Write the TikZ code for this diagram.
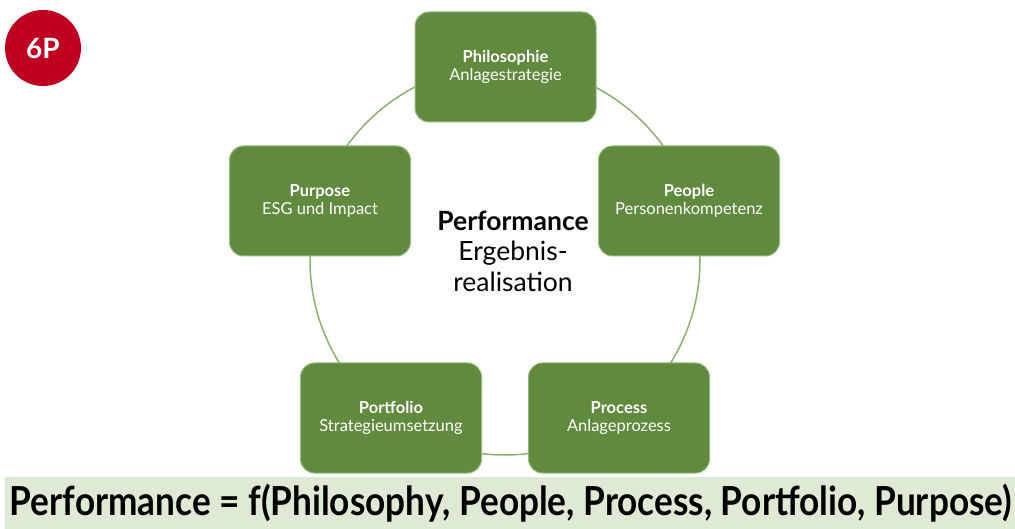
\documentclass[tikz,border=0pt]{standalone}
\usepackage{fontspec}
\setmainfont{Lato}
\usepackage{graphicx}
\definecolor{boxgreen}{RGB}{96,139,62}
\definecolor{boxedge}{RGB}{150,185,125}
\definecolor{ringgreen}{RGB}{140,176,112}
\definecolor{bannergreen}{RGB}{222,234,212}
\definecolor{badgered}{RGB}{192,0,32}
\tikzset{
  pbox/.style={draw=boxedge, line width=1pt, fill=boxgreen, rounded corners=14pt,
    minimum width=181pt, minimum height=110pt, text=white, align=center,
    font=\fontsize{16.5}{18.5}\selectfont, inner sep=0pt},
}
\begin{document}
\begin{tikzpicture}[x=1pt,y=-1pt]
\useasboundingbox (0,0) rectangle (1015,529);
\coordinate (c) at (505,260);
\draw[ringgreen, line width=1.5pt] (c) circle[radius=195];
\node[pbox] (phil) at (505.5,67) {\textbf{Philosophie}\\Anlagestrategie};
\node[pbox] (peop) at (689,201) {\textbf{People}\\Personenkompetenz};
\node[pbox] (proc) at (619,418) {\textbf{Process}\\Anlageprozess};
\node[pbox] (port) at (391,418) {\textbf{Portfolio}\\Strategieumsetzung};
\node[pbox] (purp) at (320,201) {\textbf{Purpose}\\ESG und Impact};
\node[align=center, font=\fontsize{26.5}{30.5}\selectfont, inner sep=0pt] (perf) at (513,251)
  {\textbf{Performance}\\Ergebnis-\\realisation};
\node[circle, fill=badgered, minimum size=76pt, inner sep=0pt, text=white,
  font=\fontsize{28}{28}\selectfont\bfseries] (badge) at (43,48) {6P};
\node[fill=bannergreen, minimum width=1010pt, minimum height=52pt, inner sep=0pt] (banner) at (510,503) {};
\node[inner sep=0pt, font=\fontsize{40}{40}\selectfont\bfseries] (formula) at (511,503)
  {\resizebox{1002pt}{\height}{Performance = f(Philosophy, People, Process, Portfolio, Purpose)}};
\end{tikzpicture}
\end{document}
